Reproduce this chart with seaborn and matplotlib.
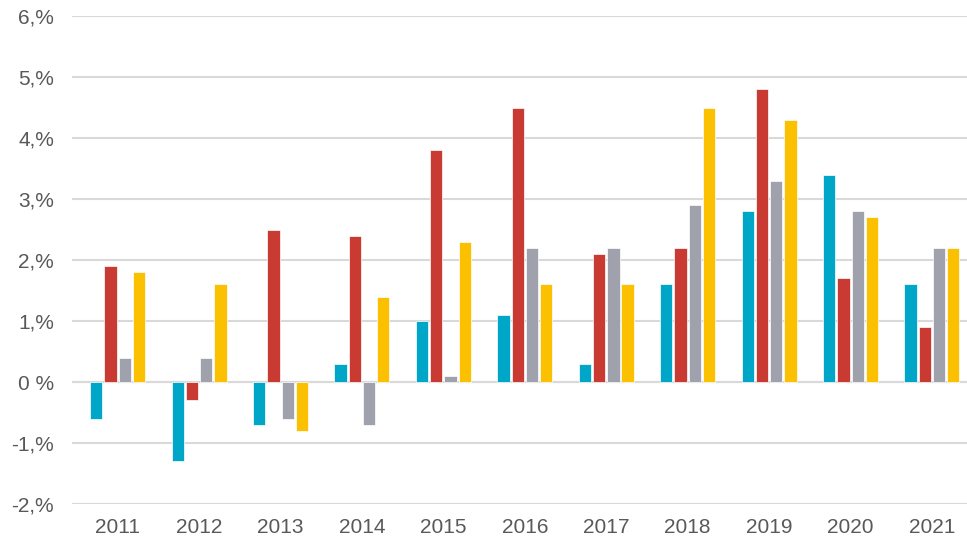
import numpy as np
import pandas as pd
import matplotlib
matplotlib.use("Agg")
import matplotlib.pyplot as plt
import seaborn as sns

# values (percent)
years = ["2011", "2012", "2013", "2014", "2015", "2016", "2017", "2018", "2019", "2020", "2021"]
series_a = [-0.6, -1.3, -0.7, 0.3, 1.0, 1.1, 0.3, 1.6, 2.8, 3.4, 1.6]
series_b = [1.9, -0.3, 2.5, 2.4, 3.8, 4.5, 2.1, 2.2, 4.8, 1.7, 0.9]
series_c = [0.4, 0.4, -0.6, -0.7, 0.1, 2.2, 2.2, 2.9, 3.3, 2.8, 2.2]
series_d = [1.8, 1.6, -0.8, 1.4, 2.3, 1.6, 1.6, 4.5, 4.3, 2.7, 2.2]
series_names = ["A", "B", "C", "D"]
y_ticks = [-2, -1, 0, 1, 2, 3, 4, 5, 6]
y_labels = ["-2,%", "-1,%", "0 %", "1,%", "2,%", "3,%", "4,%", "5,%", "6,%"]

colors = ["#00A6C8", "#C93A32", "#9FA2AC", "#FBC100"]

df = pd.DataFrame({
    "year": years * 4,
    "series": np.repeat(series_names, len(years)),
    "value": series_a + series_b + series_c + series_d,
})

sns.set_theme(style="white")
plt.rcParams["font.family"] = ["Liberation Sans", "DejaVu Sans"]

fig = plt.figure(figsize=(9.67, 5.37), dpi=100)
ax = fig.add_axes([0.0745, 0.0615, 0.9255, 0.9085])

sns.barplot(data=df, x="year", y="value", hue="series", palette=colors,
            width=0.7, gap=0.14, legend=False, ax=ax, saturation=1,
            edgecolor="white", linewidth=0.5)

ax.set_ylim(-2, 6)
ax.set_xlim(-0.56, 10.43)
ax.set_yticks(y_ticks)
ax.set_yticklabels(y_labels)
ax.yaxis.grid(True, color="#d9d9d9", linewidth=1.5)
ax.set_axisbelow(True)
ax.axhline(0, color="#d9d9d9", linewidth=1.5, zorder=0.5)
for s in ax.spines.values():
    s.set_visible(False)
ax.tick_params(axis="both", length=0, labelsize=15, labelcolor="#595959")
ax.tick_params(axis="y", pad=13)
ax.tick_params(axis="x", pad=10)
ax.set_xlabel("")
ax.set_ylabel("")

fig.savefig("out.png", dpi=100)
